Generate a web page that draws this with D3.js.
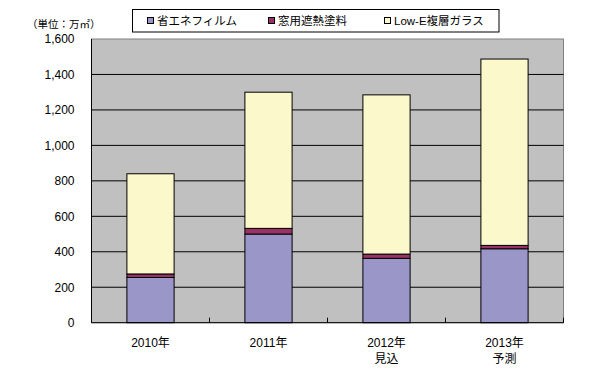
<!DOCTYPE html>
<html>
<head>
<meta charset="utf-8">
<script src="https://cdn.jsdelivr.net/npm/d3@7"></script>
<style>
  body { margin: 0; background: #fff; }
  text { font-family: "Liberation Sans", "Noto Sans CJK JP", sans-serif; }
</style>
</head>
<body>
<div id="chart"></div>
<script>
// Categories (two-line labels) and stacked series, in 万㎡
var years = ['2010年', '2011年', '2012年', '2013年'];
var subLabels = ['', '', '見込', '予測'];
var seriesNames = ['省エネフィルム', '窓用遮熱塗料', 'Low-E複層ガラス'];
var filmValues = [255, 500, 363, 417];
var paintValues = [20, 32, 24, 19];
var lowEValues = [565, 768, 898, 1051];
var yTicks = [0, 200, 400, 600, 800, 1000, 1200, 1400, 1600];

var width = 595, height = 370;
var plot = { left: 91.5, right: 563.5, top: 39, bottom: 322.7 };
var colors = ['#9a96c8', '#993366', '#fbf8cc'];

// build rows for d3.stack
var rows = years.map(function(y, i) {
    return { year: y, film: filmValues[i], paint: paintValues[i], lowE: lowEValues[i] };
});
var keys = ['film', 'paint', 'lowE'];
var stacked = d3.stack().keys(keys)(rows);

var svg = d3.select('#chart')
    .append('svg')
    .attr('width', width)
    .attr('height', height);

var x = d3.scaleBand()
    .domain(years)
    .range([plot.left, plot.right])
    .paddingInner(0.6)
    .paddingOuter(0.3);

var y = d3.scaleLinear()
    .domain([0, 1600])
    .range([plot.bottom, plot.top]);

// plot background
svg.append('rect')
    .attr('x', plot.left)
    .attr('y', plot.top)
    .attr('width', plot.right - plot.left)
    .attr('height', plot.bottom - plot.top)
    .attr('fill', '#c0c0c0')
    .attr('stroke', '#808080')
    .attr('stroke-width', 1);

// gridlines
svg.append('g')
    .selectAll('line')
    .data(yTicks.slice(1, -1))
    .enter().append('line')
    .attr('x1', plot.left)
    .attr('x2', plot.right)
    .attr('y1', function(d) { return y(d); })
    .attr('y2', function(d) { return y(d); })
    .attr('stroke', '#000')
    .attr('stroke-width', 1);

// y axis labels
svg.append('g')
    .selectAll('text')
    .data(yTicks)
    .enter().append('text')
    .attr('x', 74.5)
    .attr('y', function(d) { return y(d); })
    .attr('dy', '0.36em')
    .attr('text-anchor', 'end')
    .attr('font-size', 12)
    .text(function(d) { return d3.format(',')(d); });

// unit label
svg.append('text')
    .attr('x', 27)
    .attr('y', 24.5)
    .attr('dy', '0.36em')
    .attr('font-size', 10.5)
    .attr('font-family', '"Noto Sans CJK JP", sans-serif')
    .text('（単位：万㎡）');

// stacked bars
svg.append('g')
    .selectAll('g')
    .data(stacked)
    .enter().append('g')
    .attr('fill', function(d, i) { return colors[i]; })
    .selectAll('rect')
    .data(function(d) { return d; })
    .enter().append('rect')
    .attr('x', function(d) { return x(d.data.year); })
    .attr('y', function(d) { return y(d[1]); })
    .attr('width', x.bandwidth())
    .attr('height', function(d) { return y(d[0]) - y(d[1]); })
    .attr('stroke', '#000')
    .attr('stroke-width', 1);

// axes lines
svg.append('line')
    .attr('x1', plot.left).attr('x2', plot.left)
    .attr('y1', plot.top).attr('y2', plot.bottom)
    .attr('stroke', '#000');
svg.append('line')
    .attr('x1', plot.left).attr('x2', plot.right)
    .attr('y1', plot.bottom).attr('y2', plot.bottom)
    .attr('stroke', '#000');

// category separator ticks (pointing inward)
var step = x.step();
svg.append('g')
    .selectAll('line')
    .data(years.slice(1))
    .enter().append('line')
    .attr('x1', function(d) { return x(d) - step * 0.3; })
    .attr('x2', function(d) { return x(d) - step * 0.3; })
    .attr('y1', plot.bottom)
    .attr('y2', plot.bottom - 5)
    .attr('stroke', '#000');
svg.append('line')
    .attr('x1', plot.right).attr('x2', plot.right)
    .attr('y1', plot.bottom).attr('y2', plot.bottom - 5)
    .attr('stroke', '#000');

// category labels
var labels = svg.append('g')
    .selectAll('text')
    .data(years)
    .enter().append('text')
    .attr('x', function(d) { return x(d) + x.bandwidth() / 2; })
    .attr('y', 343)
    .attr('text-anchor', 'middle')
    .attr('font-size', 12)
    .attr('font-family', '"Noto Sans CJK JP", sans-serif');
labels.append('tspan')
    .attr('x', function(d) { return x(d) + x.bandwidth() / 2; })
    .attr('dy', '0.36em')
    .text(function(d) { return d; });
labels.append('tspan')
    .attr('x', function(d) { return x(d) + x.bandwidth() / 2; })
    .attr('dy', 16)
    .text(function(d, i) { return subLabels[i]; });

// legend
var legend = svg.append('g');
legend.append('rect')
    .attr('x', 132.5)
    .attr('y', 9.5)
    .attr('width', 366.5)
    .attr('height', 22.5)
    .attr('fill', '#fff')
    .attr('stroke', '#000');

var legendX = [147, 268, 384];
var items = legend.selectAll('g.item')
    .data(seriesNames)
    .enter().append('g')
    .attr('class', 'item')
    .attr('transform', function(d, i) { return 'translate(' + legendX[i] + ',21)'; });
items.append('rect')
    .attr('x', 0.5)
    .attr('y', -3.5)
    .attr('width', 6)
    .attr('height', 6)
    .attr('fill', function(d, i) { return colors[i]; })
    .attr('stroke', '#000');
items.append('text')
    .attr('x', 10)
    .attr('y', 0)
    .attr('dy', '0.36em')
    .attr('font-size', 11.5)
    .attr('font-family', '"Noto Sans CJK JP", sans-serif')
    .text(function(d) { return d; });
</script>
</body>
</html>
